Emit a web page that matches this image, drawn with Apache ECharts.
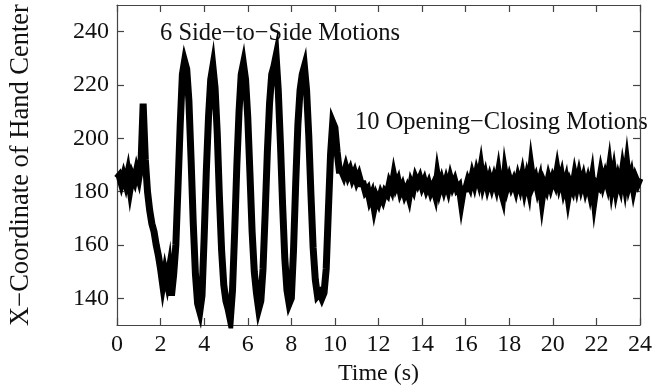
<!DOCTYPE html>
<html>
<head>
<meta charset="utf-8">
<script src="https://cdn.jsdelivr.net/npm/echarts@6/dist/echarts.min.js"></script>
<style>
  html, body { margin: 0; padding: 0; background: #fff; }
  #main { width: 661px; height: 392px; }
</style>
</head>
<body>
<div id="main"></div>
<script>
var myChart = echarts.init(document.getElementById('main'));

// 采样间隔 0.1 s，从 0 s 开始
var sampleStep = 0.1;

// 0 - 1.1 s 静止
var restPart = [185, 186, 183, 186, 183, 187, 181, 186, 184, 188, 185, 190];

// 1.2 - 10.2 s 左右摆动 6 次
var sidePart = [
  213, 192, 180, 173, 168, 165, 160, 156, 151, 145,
  150, 146, 151, 141, 149, 160, 182, 205, 224, 229,
  226, 214, 192, 168, 149, 138, 135, 141, 163, 188,
  208, 222, 227, 219, 202, 178, 158, 145, 139, 136,
  132, 143, 165, 190, 210, 224, 228, 222, 208, 187,
  165, 150, 142, 136, 139, 151, 172, 195, 213, 224,
  227, 231, 218, 198, 175, 155, 143, 138, 140, 158,
  183, 205, 218, 224, 227, 218, 201, 179, 159, 147,
  141, 142, 140, 142, 151, 173, 194, 206, 204, 195,
  188
];

// 10.3 - 24 s 张合 10 次
var openClosePart = [
  188, 186, 189, 186, 188, 185, 187, 184, 186, 183,
  183, 180, 181, 177, 179, 174, 178, 176, 179, 177,
  180, 179, 183, 181, 186, 182, 184, 180, 182, 179,
  181, 178, 183, 181, 185, 183, 185, 182, 184, 181,
  183, 180, 182, 179, 186, 181, 184, 181, 184, 181,
  185, 182, 184, 181, 182, 176, 181, 181, 184, 182,
  186, 183, 187, 184, 189, 183, 186, 182, 185, 182,
  185, 182, 187, 181, 178, 187, 182, 185, 182, 184,
  181, 185, 182, 186, 181, 185, 181, 189, 183, 185,
  181, 184, 177, 183, 181, 185, 182, 185, 183, 188,
  183, 186, 181, 184, 178, 183, 181, 186, 182, 186,
  182, 185, 181, 184, 180, 185, 177, 183, 182, 187,
  183, 186, 183, 189, 182, 187, 181, 185, 182, 188,
  183, 190, 183, 186, 181, 185, 183, 185
];

var xTicks = { min: 0, max: 24, interval: 2 };
var yRange = { min: 130, max: 250 };
var yTickValues = [140, 160, 180, 200, 220, 240];

var handX = restPart.concat(sidePart, openClosePart);
var lineData = handX.map(function (v, i) {
  return [Math.round(i * sampleStep * 10) / 10, v];
});

var serif = 'Liberation Serif';
var axisColor = '#444';

function boxAxis(pos, range, showLabel) {
  var ax = {
    type: 'value',
    position: pos,
    min: range.min,
    max: range.max,
    splitLine: { show: false },
    axisLine: { show: true, onZero: false, lineStyle: { color: axisColor, width: 1.2 } },
    axisTick: { show: true, inside: true, length: 7, lineStyle: { color: axisColor, width: 1.2 } },
    axisLabel: {
      show: showLabel,
      color: '#111',
      fontFamily: serif,
      fontSize: 24,
      margin: 8
    }
  };
  if (range.interval) ax.interval = range.interval;
  return ax;
}

function yAxisBox(pos, showLabel) {
  var ax = boxAxis(pos, yRange, showLabel);
  ax.axisTick.customValues = yTickValues;
  ax.axisLabel.customValues = yTickValues;
  return ax;
}

var xMain = boxAxis('bottom', xTicks, true);
xMain.name = 'Time (s)';
xMain.nameLocation = 'middle';
xMain.nameGap = 37;
xMain.nameTextStyle = { color: '#111', fontFamily: serif, fontSize: 24 };

var yMain = yAxisBox('left', true);
yMain.name = 'X\u2212Coordinate of Hand Center';
yMain.nameLocation = 'middle';
yMain.nameGap = 82;
yMain.nameTextStyle = { color: '#111', fontFamily: serif, fontSize: 26.5 };

var option = {
  animation: false,
  backgroundColor: '#fff',
  grid: { left: 116.5, right: 21, top: 5, bottom: 67 },
  xAxis: [xMain, boxAxis('top', xTicks, false)],
  yAxis: [yMain, yAxisBox('right', false)],
  graphic: [
    {
      type: 'text',
      left: 160, top: 21,
      style: { text: '6 Side\u2212to\u2212Side Motions', fill: '#111', font: '24.5px "Liberation Serif"' }
    },
    {
      type: 'text',
      left: 355, top: 110,
      style: { text: '10 Opening\u2212Closing Motions', fill: '#111', font: '24.5px "Liberation Serif"' }
    }
  ],
  series: [
    {
      type: 'line',
      xAxisIndex: 0,
      yAxisIndex: 0,
      data: lineData,
      showSymbol: false,
      symbol: 'none',
      lineStyle: { color: '#000', width: 7, join: 'miter' }
    }
  ]
};

myChart.setOption(option);
</script>
</body>
</html>
